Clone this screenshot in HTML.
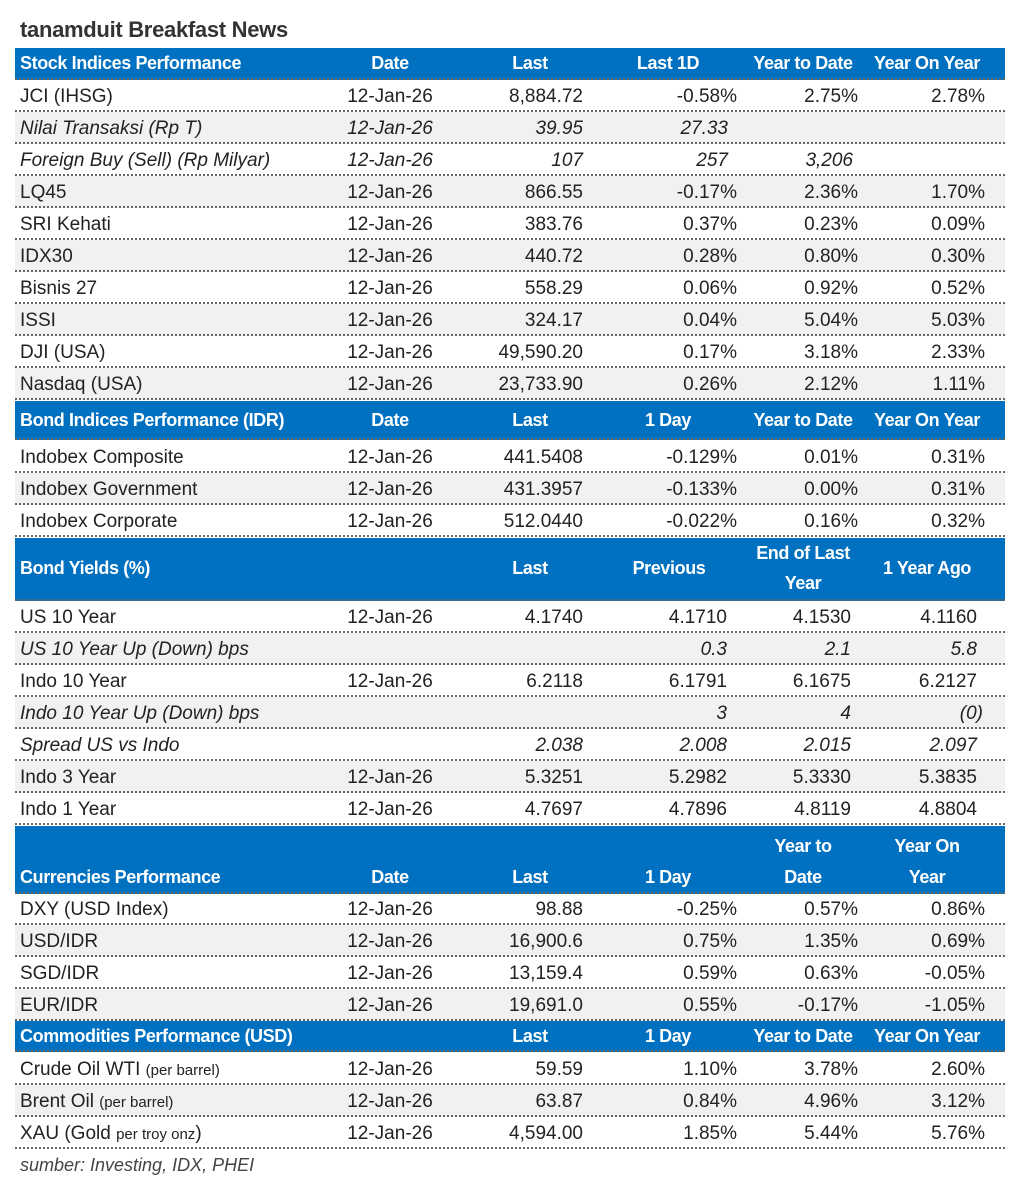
<!DOCTYPE html>
<html><head><meta charset="utf-8">
<style>
body{margin:0;width:1018px;height:1196px;background:#fff;position:relative;overflow:hidden;font-family:"Liberation Sans",sans-serif;color:#222}
.t{position:absolute;left:20px;top:17px;font-size:22px;font-weight:bold;color:#333;letter-spacing:-0.3px}
.r{position:absolute;left:15px;width:990px;height:30px;border-bottom:2px dotted #666;font-size:19px;line-height:34px}
.g{background:#f1f1f1}
.h{background:#0070c0;color:#fff;font-weight:bold;font-size:18px;letter-spacing:-0.4px;line-height:31px}
.r span{position:absolute;top:0;white-space:nowrap}
.n{left:5px}
.d{left:300px;width:150px;text-align:center}
.c3{left:418px;width:150px;text-align:right}
.c4{left:572px;width:150px;text-align:right}
.c5{left:693px;width:150px;text-align:right}
.c6{left:820px;width:150px;text-align:right}
.y4{left:562px}.y5{left:686px}.y6{left:812px}
.hc{width:160px;text-align:center}
.i{font-style:italic}
.s{font-size:15px}
.f{position:absolute;left:20px;top:1155px;font-size:18px;font-style:italic;color:#444}
</style></head><body>
<div class="t">tanamduit Breakfast News</div>

<div class="r h" style="top:48px;height:30px"><span class="n">Stock Indices Performance</span><span class="hc" style="left:295px">Date</span><span class="hc" style="left:435px">Last</span><span class="hc" style="left:573px">Last 1D</span><span class="hc" style="left:708px">Year to Date</span><span class="hc" style="left:832px">Year On Year</span></div>
<div class="r" style="top:80px"><span class="n">JCI (IHSG)</span><span class="d">12-Jan-26</span><span class="c3">8,884.72</span><span class="c4">-0.58%</span><span class="c5">2.75%</span><span class="c6">2.78%</span></div>
<div class="r g i" style="top:112px"><span class="n">Nilai Transaksi (Rp T)</span><span class="d">12-Jan-26</span><span class="c3">39.95</span><span class="c4" style="left:563px">27.33</span></div>
<div class="r i" style="top:144px"><span class="n">Foreign Buy (Sell) (Rp Milyar)</span><span class="d">12-Jan-26</span><span class="c3">107</span><span class="c4" style="left:563px">257</span><span class="c5" style="left:688px">3,206</span></div>
<div class="r g" style="top:176px"><span class="n">LQ45</span><span class="d">12-Jan-26</span><span class="c3">866.55</span><span class="c4">-0.17%</span><span class="c5">2.36%</span><span class="c6">1.70%</span></div>
<div class="r" style="top:208px"><span class="n">SRI Kehati</span><span class="d">12-Jan-26</span><span class="c3">383.76</span><span class="c4">0.37%</span><span class="c5">0.23%</span><span class="c6">0.09%</span></div>
<div class="r g" style="top:240px"><span class="n">IDX30</span><span class="d">12-Jan-26</span><span class="c3">440.72</span><span class="c4">0.28%</span><span class="c5">0.80%</span><span class="c6">0.30%</span></div>
<div class="r" style="top:272px"><span class="n">Bisnis 27</span><span class="d">12-Jan-26</span><span class="c3">558.29</span><span class="c4">0.06%</span><span class="c5">0.92%</span><span class="c6">0.52%</span></div>
<div class="r g" style="top:304px"><span class="n">ISSI</span><span class="d">12-Jan-26</span><span class="c3">324.17</span><span class="c4">0.04%</span><span class="c5">5.04%</span><span class="c6">5.03%</span></div>
<div class="r" style="top:336px"><span class="n">DJI (USA)</span><span class="d">12-Jan-26</span><span class="c3">49,590.20</span><span class="c4">0.17%</span><span class="c5">3.18%</span><span class="c6">2.33%</span></div>
<div class="r g" style="top:368px"><span class="n">Nasdaq (USA)</span><span class="d">12-Jan-26</span><span class="c3">23,733.90</span><span class="c4">0.26%</span><span class="c5">2.12%</span><span class="c6">1.11%</span></div>

<div class="r h" style="top:401px;height:37px;line-height:38px"><span class="n" style="width:295px;overflow:hidden">Bond Indices Performance (IDR)</span><span class="hc" style="left:295px">Date</span><span class="hc" style="left:435px">Last</span><span class="hc" style="left:573px">1 Day</span><span class="hc" style="left:708px">Year to Date</span><span class="hc" style="left:832px">Year On Year</span></div>
<div class="r" style="top:441px"><span class="n">Indobex Composite</span><span class="d">12-Jan-26</span><span class="c3">441.5408</span><span class="c4">-0.129%</span><span class="c5">0.01%</span><span class="c6">0.31%</span></div>
<div class="r g" style="top:473px"><span class="n">Indobex Government</span><span class="d">12-Jan-26</span><span class="c3">431.3957</span><span class="c4">-0.133%</span><span class="c5">0.00%</span><span class="c6">0.31%</span></div>
<div class="r" style="top:505px"><span class="n">Indobex Corporate</span><span class="d">12-Jan-26</span><span class="c3">512.0440</span><span class="c4">-0.022%</span><span class="c5">0.16%</span><span class="c6">0.32%</span></div>

<div class="r h" style="top:538px;height:61px;line-height:30px"><span class="n" style="top:15px">Bond Yields (%)</span><span class="hc" style="left:435px;top:15px">Last</span><span class="hc" style="left:574px;top:15px">Previous</span><span class="hc" style="left:708px;top:0">End of Last</span><span class="hc" style="left:708px;top:30px">Year</span><span class="hc" style="left:832px;top:15px">1 Year Ago</span></div>
<div class="r" style="top:601px"><span class="n">US 10 Year</span><span class="d">12-Jan-26</span><span class="c3">4.1740</span><span class="c4 y4">4.1710</span><span class="c5 y5">4.1530</span><span class="c6 y6">4.1160</span></div>
<div class="r g i" style="top:633px"><span class="n">US 10 Year Up (Down) bps</span><span class="c4 y4">0.3</span><span class="c5 y5">2.1</span><span class="c6 y6">5.8</span></div>
<div class="r" style="top:665px"><span class="n">Indo 10 Year</span><span class="d">12-Jan-26</span><span class="c3">6.2118</span><span class="c4 y4">6.1791</span><span class="c5 y5">6.1675</span><span class="c6 y6">6.2127</span></div>
<div class="r g i" style="top:697px"><span class="n">Indo 10 Year Up (Down) bps</span><span class="c4 y4">3</span><span class="c5 y5">4</span><span class="c6" style="left:818px">(0)</span></div>
<div class="r i" style="top:729px"><span class="n">Spread US vs Indo</span><span class="c3">2.038</span><span class="c4 y4">2.008</span><span class="c5 y5">2.015</span><span class="c6 y6">2.097</span></div>
<div class="r g" style="top:761px"><span class="n">Indo 3 Year</span><span class="d">12-Jan-26</span><span class="c3">5.3251</span><span class="c4 y4">5.2982</span><span class="c5 y5">5.3330</span><span class="c6 y6">5.3835</span></div>
<div class="r" style="top:793px"><span class="n">Indo 1 Year</span><span class="d">12-Jan-26</span><span class="c3">4.7697</span><span class="c4 y4">4.7896</span><span class="c5 y5">4.8119</span><span class="c6 y6">4.8804</span></div>

<div class="r h" style="top:826px;height:66px;line-height:32px"><span class="n" style="top:35px">Currencies Performance</span><span class="hc" style="left:295px;top:35px">Date</span><span class="hc" style="left:435px;top:35px">Last</span><span class="hc" style="left:573px;top:35px">1 Day</span><span class="hc" style="left:708px;top:4px">Year to</span><span class="hc" style="left:708px;top:35px">Date</span><span class="hc" style="left:832px;top:4px">Year On</span><span class="hc" style="left:832px;top:35px">Year</span></div>
<div class="r" style="top:893px"><span class="n">DXY (USD Index)</span><span class="d">12-Jan-26</span><span class="c3">98.88</span><span class="c4">-0.25%</span><span class="c5">0.57%</span><span class="c6">0.86%</span></div>
<div class="r g" style="top:925px"><span class="n">USD/IDR</span><span class="d">12-Jan-26</span><span class="c3">16,900.6</span><span class="c4">0.75%</span><span class="c5">1.35%</span><span class="c6">0.69%</span></div>
<div class="r" style="top:957px"><span class="n">SGD/IDR</span><span class="d">12-Jan-26</span><span class="c3">13,159.4</span><span class="c4">0.59%</span><span class="c5">0.63%</span><span class="c6">-0.05%</span></div>
<div class="r g" style="top:989px"><span class="n">EUR/IDR</span><span class="d">12-Jan-26</span><span class="c3">19,691.0</span><span class="c4">0.55%</span><span class="c5">-0.17%</span><span class="c6">-1.05%</span></div>

<div class="r h" style="top:1021px;height:29px;line-height:30px"><span class="n">Commodities Performance (USD)</span><span class="hc" style="left:435px">Last</span><span class="hc" style="left:573px">1 Day</span><span class="hc" style="left:708px">Year to Date</span><span class="hc" style="left:832px">Year On Year</span></div>
<div class="r" style="top:1053px"><span class="n">Crude Oil WTI <span class="s" style="position:static">(per barrel)</span></span><span class="d">12-Jan-26</span><span class="c3">59.59</span><span class="c4">1.10%</span><span class="c5">3.78%</span><span class="c6">2.60%</span></div>
<div class="r g" style="top:1085px"><span class="n">Brent Oil <span class="s" style="position:static">(per barrel)</span></span><span class="d">12-Jan-26</span><span class="c3">63.87</span><span class="c4">0.84%</span><span class="c5">4.96%</span><span class="c6">3.12%</span></div>
<div class="r" style="top:1117px"><span class="n">XAU (Gold <span class="s" style="position:static">per troy onz</span>)</span><span class="d">12-Jan-26</span><span class="c3">4,594.00</span><span class="c4">1.85%</span><span class="c5">5.44%</span><span class="c6">5.76%</span></div>
<div class="f">sumber: Investing, IDX, PHEI</div>
</body></html>
